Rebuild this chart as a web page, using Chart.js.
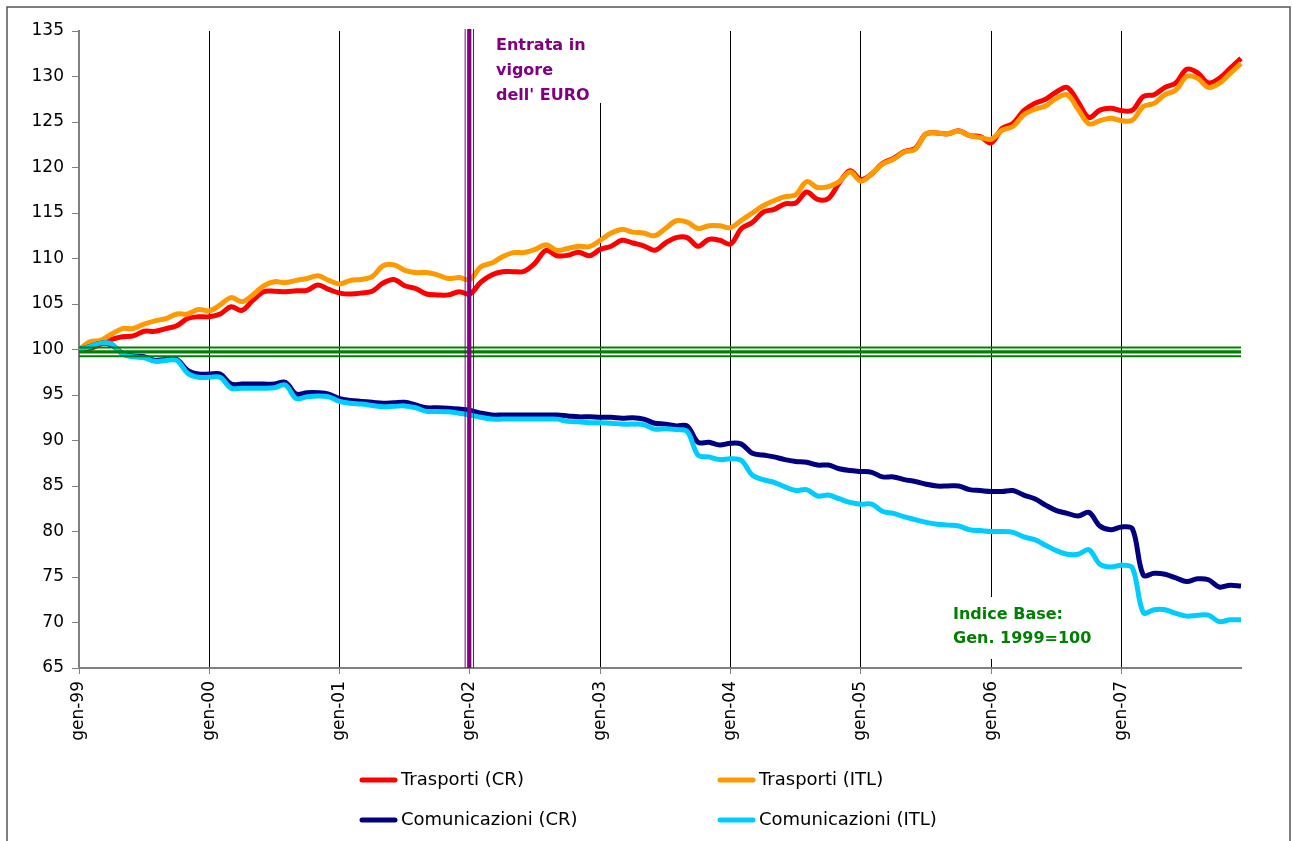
<!DOCTYPE html>
<html>
<head>
<meta charset="utf-8">
<script src="https://cdn.jsdelivr.net/npm/chart.js@4.4.1/dist/chart.umd.min.js"></script>
<style>
  body { margin: 0; background: #fff; }
  #wrap { position: relative; width: 1292px; height: 841px; }
</style>
</head>
<body>
<div id="wrap"><canvas id="myChart"></canvas></div>
<script>
// month labels gen-99 .. dic-07
const years = ['99', '00', '01', '02', '03', '04', '05', '06', '07'];
const months = ['gen', 'feb', 'mar', 'apr', 'mag', 'giu', 'lug', 'ago', 'set', 'ott', 'nov', 'dic'];
const labels = [];
years.forEach(y => months.forEach(m => labels.push(m + '-' + y)));

const trasportiCR = [
  100.0, 100.1, 100.6, 101.1, 101.4, 101.5, 102.0, 102.0, 102.3, 102.6, 103.4, 103.6,
  103.6, 103.9, 104.7, 104.3, 105.4, 106.35, 106.4, 106.35, 106.45, 106.5, 107.1, 106.6,
  106.2, 106.1, 106.2, 106.4, 107.3, 107.7, 107.0, 106.7, 106.1, 106.0, 106.0, 106.35,
  106.1, 107.4, 108.2, 108.55, 108.55, 108.6, 109.5, 110.9, 110.3, 110.35, 110.7, 110.3,
  111.0, 111.35, 112.0, 111.7, 111.4, 110.9, 111.7, 112.3, 112.3, 111.35, 112.1, 112.0,
  111.6, 113.3, 113.95, 115.1, 115.4, 116.0, 116.1, 117.3, 116.5, 116.6, 118.3, 119.65,
  118.7, 119.3, 120.45, 121.0, 121.75, 122.1, 123.7, 123.8, 123.7, 124.05, 123.5, 123.4,
  122.7, 124.3, 124.85, 126.25, 127.05, 127.5, 128.3, 128.8, 127.2, 125.5, 126.3, 126.5,
  126.25, 126.3, 127.8, 128.0, 128.8, 129.3, 130.8, 130.4, 129.3, 129.8, 130.9, 132.0
];
const trasportiITL = [
  100.0, 100.85, 101.0, 101.7, 102.3, 102.3, 102.8, 103.15, 103.4, 103.9, 103.9, 104.4,
  104.25, 104.9, 105.7, 105.25, 106.0, 107.0, 107.45, 107.35, 107.6, 107.8, 108.1, 107.6,
  107.2, 107.6, 107.7, 108.0, 109.2, 109.3, 108.7, 108.45, 108.45, 108.2, 107.8, 107.9,
  107.7, 109.1, 109.5, 110.2, 110.65, 110.65, 111.0, 111.5, 110.9, 111.1, 111.35, 111.3,
  112.0, 112.8, 113.2, 112.9, 112.8, 112.5, 113.3, 114.15, 114.0, 113.3, 113.6, 113.6,
  113.4, 114.2, 115.0, 115.8, 116.35, 116.8, 117.0, 118.45, 117.8, 117.9, 118.45, 119.5,
  118.5, 119.3, 120.4, 120.9, 121.7, 122.0, 123.7, 123.8, 123.7, 124.0, 123.5, 123.3,
  123.1, 124.1, 124.5, 125.8, 126.4, 126.75, 127.6, 128.0, 126.4, 124.8, 125.15, 125.4,
  125.15, 125.2, 126.7, 127.05, 128.0, 128.5, 130.0, 129.8, 128.8, 129.25, 130.35, 131.45
];
const comunicazioniCR = [
  100.0, 100.3, 100.7, 100.5, 99.6, 99.3, 99.2, 98.8, 98.9, 98.9, 97.7, 97.3,
  97.3, 97.3, 96.2, 96.2, 96.2, 96.2, 96.2, 96.4, 95.1, 95.25, 95.25, 95.1,
  94.6, 94.4, 94.3, 94.2, 94.1, 94.15, 94.2, 93.9, 93.6, 93.6, 93.55, 93.45,
  93.3, 93.0, 92.8, 92.8, 92.8, 92.8, 92.8, 92.8, 92.8, 92.7, 92.6, 92.6,
  92.55, 92.55, 92.45, 92.5, 92.35, 91.9, 91.8, 91.6, 91.6, 89.8, 89.8, 89.5,
  89.7, 89.6, 88.6, 88.4, 88.2, 87.9, 87.7, 87.6, 87.3, 87.3, 86.9, 86.7,
  86.6, 86.5, 86.0, 86.0, 85.7, 85.5, 85.2, 85.0, 85.0, 85.0, 84.6, 84.5,
  84.4, 84.4, 84.5, 84.0, 83.6, 82.9, 82.3, 82.0, 81.7, 82.1, 80.6, 80.2,
  80.5, 80.3, 75.2, 75.4, 75.3, 74.9, 74.5, 74.8, 74.7, 73.9, 74.1, 74.0
];
const comunicazioniITL = [
  100.0, 100.3, 100.7, 100.6, 99.5, 99.2, 99.1, 98.7, 98.8, 98.8, 97.4, 96.95,
  96.95, 96.95, 95.75, 95.75, 95.75, 95.75, 95.8, 96.1, 94.6, 94.8, 94.9, 94.8,
  94.3, 94.1, 94.0, 93.85, 93.7, 93.75, 93.8, 93.6, 93.2, 93.2, 93.15, 93.0,
  92.8, 92.55, 92.35, 92.35, 92.35, 92.35, 92.35, 92.35, 92.35, 92.1, 92.05, 91.95,
  91.95, 91.9, 91.8, 91.8, 91.75, 91.25, 91.3, 91.2, 91.0, 88.4, 88.2, 87.9,
  88.0, 87.8, 86.2, 85.7, 85.4, 84.9, 84.5, 84.6, 83.9, 84.0, 83.6, 83.2,
  83.0, 83.0, 82.2, 82.0, 81.6, 81.3, 81.0, 80.8, 80.7, 80.6, 80.2, 80.1,
  80.0, 80.0, 79.9, 79.4, 79.1, 78.5, 77.9, 77.5, 77.5, 78.0, 76.4, 76.1,
  76.3, 76.0, 71.1, 71.4, 71.4, 71.0, 70.7, 70.8, 70.8, 70.1, 70.3, 70.3
];

const baseValue = 100;
const euroLabel = 'gen-02';
const euroText = ['Entrata in', 'vigore', "dell' EURO"];
const baseText = ['Indice Base:', 'Gen. 1999=100'];

Chart.defaults.font.family = "'DejaVu Sans', sans-serif";
Chart.defaults.color = '#000';

// lines, notes, frame and the 2x2 legend
const extras = {
  id: 'extras',
  afterDatasetsDraw(chart) {
    const { ctx, chartArea: a, scales: { x, y } } = chart;
    ctx.save();
    // white text boxes covering gridlines
    ctx.fillStyle = '#fff';
    ctx.fillRect(488, a.top, 118, 72);
    ctx.fillRect(948, 597, 152, 62);

    // green base lines
    const yb = y.getPixelForValue(baseValue);
    ctx.strokeStyle = '#008000';
    [[-2, 2], [2.3, 3.3], [6.7, 2]].forEach(([off, w]) => {
      ctx.lineWidth = w;
      ctx.beginPath();
      ctx.moveTo(a.left, yb + off);
      ctx.lineTo(a.right, yb + off);
      ctx.stroke();
    });

    // purple euro lines
    const xe = x.getPixelForValue(labels.indexOf(euroLabel));
    ctx.strokeStyle = '#800080';
    [[-4.8, 1], [-0.7, 4.2], [3.6, 1]].forEach(([off, w]) => {
      ctx.lineWidth = w;
      ctx.beginPath();
      ctx.moveTo(xe + off, a.top - 2);
      ctx.lineTo(xe + off, a.bottom);
      ctx.stroke();
    });

    ctx.font = "bold 16px 'DejaVu Sans'";
    ctx.textAlign = 'left';
    ctx.textBaseline = 'alphabetic';
    ctx.fillStyle = '#800080';
    euroText.forEach((t, i) => ctx.fillText(t, 496, 50 + i * 25));
    ctx.fillStyle = '#008000';
    baseText.forEach((t, i) => ctx.fillText(t, 953, 619 + i * 24));
    ctx.restore();
  },
  afterDraw(chart) {
    const ctx = chart.ctx;
    ctx.save();
    ctx.strokeStyle = '#555';
    ctx.lineWidth = 1.5;
    ctx.strokeRect(7, 7, 1283, 860);

    const pos = [[360, 780], [718, 780], [360, 820], [718, 820]];
    ctx.font = "18px 'DejaVu Sans'";
    ctx.textBaseline = 'middle';
    ctx.textAlign = 'left';
    chart.data.datasets.forEach((ds, i) => {
      const [lx, ly] = pos[i];
      ctx.strokeStyle = ds.borderColor;
      ctx.lineWidth = 5;
      ctx.lineCap = 'round';
      ctx.beginPath();
      ctx.moveTo(lx + 2, ly);
      ctx.lineTo(lx + 35, ly);
      ctx.stroke();
      ctx.fillStyle = '#000';
      ctx.fillText(ds.label, lx + 41, ly);
    });
    ctx.restore();
  }
};

const ctx = document.getElementById('myChart').getContext('2d');
const myLineChart = new Chart(ctx, {
  type: 'line',
  data: {
    labels: labels,
    datasets: [
      { label: 'Trasporti (CR)', data: trasportiCR, borderColor: '#ff0000', order: 4 },
      { label: 'Trasporti (ITL)', data: trasportiITL, borderColor: '#ff9900', order: 3 },
      { label: 'Comunicazioni (CR)', data: comunicazioniCR, borderColor: '#000080', order: 2 },
      { label: 'Comunicazioni (ITL)', data: comunicazioniITL, borderColor: '#00ccff', order: 1 },
    ],
  },
  options: {
    responsive: true,
    maintainAspectRatio: false,
    animation: false,
    layout: { padding: { left: 0, right: 51, top: 31, bottom: 0 } },
    elements: {
      line: { borderWidth: 5, tension: 0.35, fill: false },
      point: { radius: 0, hoverRadius: 0 },
    },
    plugins: {
      legend: { display: false },
      tooltip: { enabled: false },
    },
    scales: {
      x: {
        offset: false,
        afterFit: s => { s.height = 173; },
        border: { color: '#808080', width: 2 },
        grid: {
          color: c => (c.index % 12 === 0 && c.index > 0 ? '#000' : 'rgba(0,0,0,0)'),
          tickColor: c => (c.index % 12 === 0 ? '#808080' : 'rgba(0,0,0,0)'),
          lineWidth: 1,
          tickLength: 6,
        },
        ticks: {
          autoSkip: false,
          maxRotation: 90,
          minRotation: 90,
          padding: 7,
          font: { size: 17 },
          callback: (v, i) => (i % 12 === 0 ? labels[i] : ''),
        },
      },
      y: {
        min: 65,
        max: 135,
        afterFit: s => { s.width = 79; },
        border: { color: '#808080', width: 2 },
        grid: { drawOnChartArea: false, tickColor: '#808080', tickLength: 7 },
        ticks: { stepSize: 5, padding: 8, font: { size: 17 } },
      },
    },
  },
  plugins: [extras],
});
</script>
</body>
</html>
